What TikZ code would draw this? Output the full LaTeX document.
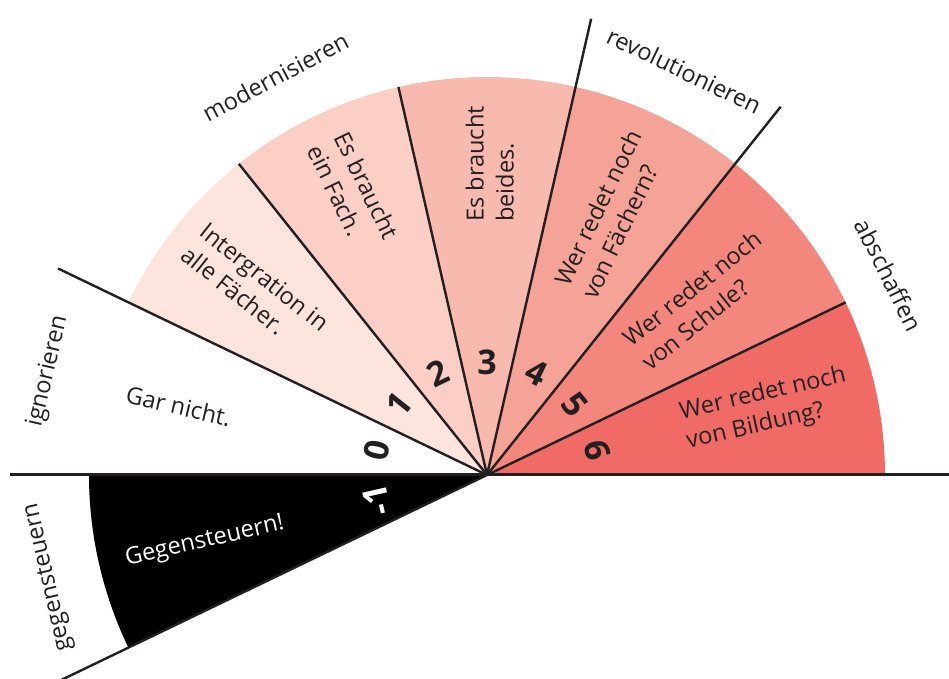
\documentclass[tikz,border=0pt]{standalone}
\usepackage{fontspec}
\setmainfont{Open Sans}
\definecolor{textgrau}{HTML}{231F20}
\definecolor{rosa1}{HTML}{FDE4DD}
\definecolor{rosa2}{HTML}{FBCFC5}
\definecolor{rosa3}{HTML}{F8BAAE}
\definecolor{rosa4}{HTML}{F6A397}
\definecolor{rosa5}{HTML}{F3877D}
\definecolor{rosa6}{HTML}{F06B66}
\begin{document}
\begin{tikzpicture}[x=0.5pt,y=0.5pt,
    feld/.style={align=left,font=\fontsize{11.8}{15}\selectfont,text=textgrau},
    stufe/.style={font=\fontsize{17}{17}\selectfont\bfseries,text=textgrau},
    haltung/.style={font=\fontsize{11.8}{14}\selectfont,text=textgrau},
    strich/.style={line width=1.2pt,draw=textgrau}]
	\useasboundingbox (-487,-204) rectangle (462,475);
	\coordinate (M) at (0,0);
	%SEKTOREN
	\fill[black] (M) -- (180:398) arc[start angle=180,end angle=205.71,radius=398] -- cycle;
	\foreach \i/\farbe in {1/rosa1,2/rosa2,3/rosa3,4/rosa4,5/rosa5,6/rosa6}{
		\pgfmathsetmacro{\a}{180-25.714*(\i+1)}
		\fill[\farbe] (M) -- (\a:398) arc[start angle=\a,delta angle=25.714,radius=398] -- cycle;
	}
	%LINIEN
	\coordinate (links) at (-477,0);
	\coordinate (rechts) at (470,0);
	\draw[strich,line width=1.5pt] (links) -- (rechts);
	\foreach \n/\w/\r in {a/154.29/476,b/128.57/398,c/102.86/398,d/77.14/468,e/51.43/471,f/25.71/398,g/205.71/472}{
		\coordinate (k\n) at (\w:\r);
		\draw[strich] (M) -- (k\n);
	}
	%TEXTE
	\node[feld,rotate=-12.86] (gar) at (167.4:316) {Gar nicht.};
	\node[feld,rotate=-38.57] (integration) at (141.2:297) {Intergration in\\alle Fächer.};
	\node[feld,rotate=-64.29] (fach) at (115.3:313) {Es braucht\\ein Fach.};
	\node[feld,rotate=90] (beides) at (89.5:311) {Es braucht\\beides.};
	\node[feld,rotate=64.29] (faechern) at (64.5:289) {Wer redet noch\\von Fächern?};
	\node[feld,rotate=38.57] (schule) at (39.2:277) {Wer redet noch\\von Schule?};
	\node[feld,rotate=12.86] (bildung) at (13.3:287) {Wer redet noch\\von Bildung?};
	\node[feld,text=white,rotate=12.86] (gegen) at (193.3:290) {Gegensteuern!};
	%STUFEN
	\foreach \z/\w in {0/167.14,1/141.43,2/115.71,3/90,4/64.29,5/38.57,6/12.86}{
		\node[stufe,rotate=\w-90] (s\z) at (\w:113) {\z};
	}
	\node[stufe,text=white,rotate=102.86] (sminus) at (192.86:113) {-1};
	%HALTUNGEN
	\node[haltung,rotate=76.9] (ignorieren) at (166.7:451) {ignorieren};
	\node[haltung,rotate=28] (modernisieren) at (118:451) {modernisieren};
	\node[haltung,rotate=-25.7] (revolutionieren) at (64:450) {revolutionieren};
	\node[haltung,rotate=-63.5] (abschaffen) at (26.5:449) {abschaffen};
	\node[haltung,rotate=102.9] (gegensteuern) at (193.1:450) {gegensteuern};
\end{tikzpicture}
\end{document}
